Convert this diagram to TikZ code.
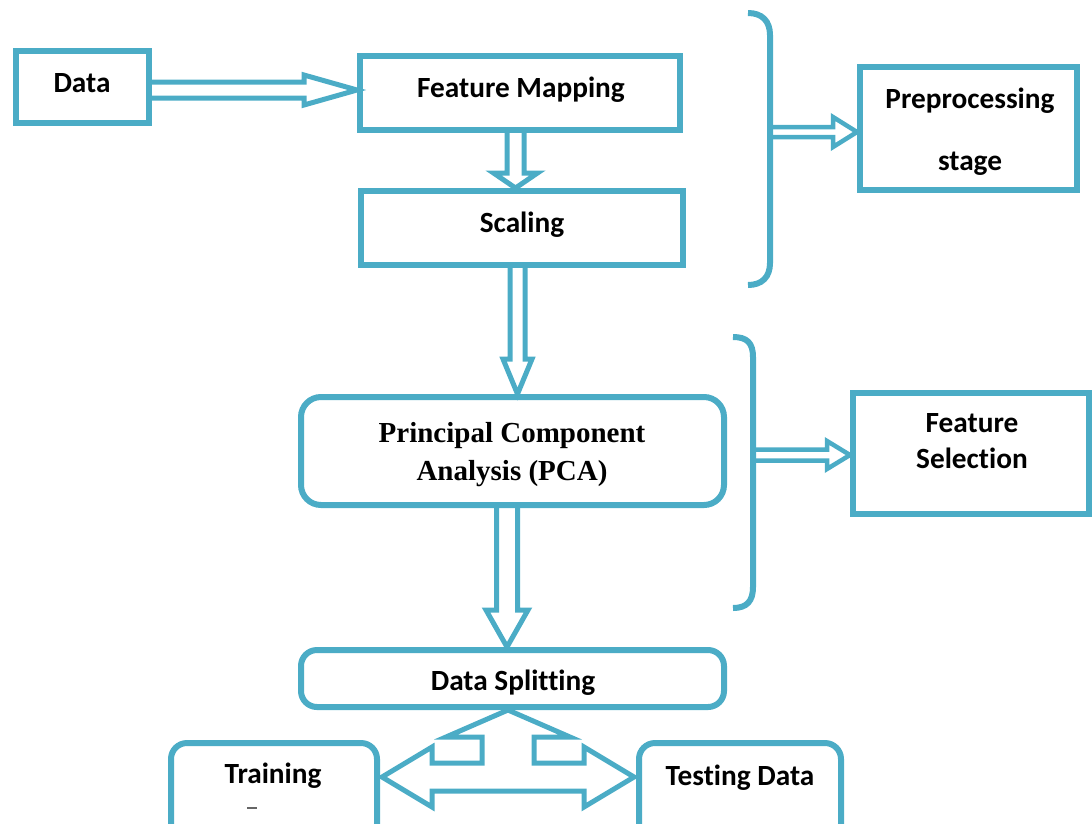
\documentclass[tikz,border=0pt]{standalone}
\usepackage{fontspec}
\setmainfont{Carlito}[Ligatures=NoCommon]
\newfontfamily\serifb{Liberation Serif}
\usetikzlibrary{calc}
\definecolor{acc}{RGB}{75,172,198}
\tikzset{
  box/.style={draw=acc, line width=6pt, fill=white, inner sep=0pt},
  rbox/.style={box, rounded corners=16pt},
  lbl/.style={anchor=base, inner sep=0pt, font=\fontsize{29.3}{34}\selectfont\bfseries},
  slbl/.style={anchor=base, inner sep=0pt, font=\fontsize{29}{34}\selectfont\serifb\bfseries},
  barrow/.style={draw=acc, line width=5pt},
  thinarrow/.style={draw=acc, line width=4.5pt},
  bracket/.style={draw=acc, line width=6pt},
}
% #1 start, #2 end, #3 shaft half width, #4 head half width, #5 head length, #6 style
\newcommand\blockarrow[6]{%
  \path #1 coordinate (ba-s) #2 coordinate (ba-e);
  \path ($(ba-e)!#5!(ba-s)$) coordinate (ba-b);
  \draw[#6] ($(ba-s)!#3!90:(ba-e)$) -- ($(ba-b)!#3!90:(ba-e)$) -- ($(ba-b)!#4!90:(ba-e)$)
    -- (ba-e) -- ($(ba-b)!#4!-90:(ba-e)$) -- ($(ba-b)!#3!-90:(ba-e)$) -- ($(ba-s)!#3!-90:(ba-e)$);
}
\begin{document}
\begin{tikzpicture}[x=1pt, y=-1pt]
\useasboundingbox (0,0) rectangle (1092,823);

% boxes
\node[box, minimum width=133pt, minimum height=72pt] (data) at (82.5,87) {};
\node[lbl] at (82,92) {Data};
\node[box, minimum width=320pt, minimum height=74pt] (fm) at (520,93) {};
\node[lbl] at (521,97) {Feature Mapping};
\node[box, minimum width=322pt, minimum height=74pt] (scaling) at (522,228) {};
\node[lbl] at (522,232) {Scaling};
\node[rbox, rounded corners=20pt, minimum width=423pt, minimum height=108pt] (pca) at (512.5,451) {};
\node[slbl] at (512,442) {Principal Component};
\node[slbl] at (512,480) {Analysis (PCA)};
\node[rbox, minimum width=423pt, minimum height=57pt] (split) at (512.5,678.5) {};
\begin{scope}
  \clip (300,650) rectangle (724,694);
  \node[lbl] at (513,690) {Data Splitting};
\end{scope}
\node[rbox, minimum width=206pt, minimum height=97pt] (train) at (274,791.5) {};
\node[lbl] at (273,783) {Training};
\draw[line width=1.5pt, black!60] (247,808) -- (257,808);
\node[rbox, minimum width=202pt, minimum height=97pt] (test) at (740,791.5) {};
\node[lbl] at (740,785) {Testing Data};
\node[box, minimum width=217pt, minimum height=123pt] (prep) at (968.5,128.5) {};
\node[lbl] at (970,108) {Preprocessing};
\node[lbl] at (970,170) {stage};
\node[box, minimum width=236pt, minimum height=121pt] (fsel) at (971,453.5) {};
\node[lbl] at (972,432) {Feature};
\node[lbl] at (972,468) {Selection};

% brackets
\draw[bracket] (748,13) .. controls (762,13) and (770,21) .. (770,35) -- (770,263)
  .. controls (770,277) and (762,285) .. (748,285);
\coordinate (b1) at (770,132);
\draw[bracket] (733,337) .. controls (747,337) and (753,343) .. (753,357) -- (753,587)
  .. controls (753,601) and (747,608) .. (733,608);
\coordinate (b2) at (753,455);

% block arrows
\blockarrow{($(data.east)+(-3,3)$)}{($(fm.west)+(0,-3)$)}{8pt}{15pt}{53pt}{barrow}
\blockarrow{($(fm.south)+(-4.5,-3)$)}{($(scaling.north)+(-6.5,0)$)}{8.5pt}{22pt}{15pt}{barrow}
\blockarrow{($(scaling.south)+(-4.5,-3)$)}{($(pca.north)+(5,0)$)}{7.5pt}{14.5pt}{35pt}{barrow}
\blockarrow{($(pca.south)+(-5.5,-3)$)}{($(split.north)+(-5.5,0)$)}{10.5pt}{21pt}{37pt}{barrow}
\blockarrow{(b1)}{($(prep.west)+(0,3.5)$)}{5pt}{15pt}{24pt}{thinarrow}
\blockarrow{(b2)}{($(fsel.west)+(0,1.5)$)}{5.5pt}{14pt}{23pt}{thinarrow}

% three-way arrow from Data Splitting to Training and Testing Data
\coordinate (T) at ($(split.south)+(-4.5,0)$);
\draw[barrow, shift={(T)}] (0,0) -- (62,27) -- (26,27) -- (26,53) -- (76,53) -- (76,37)
  -- (126,67) -- (76,97) -- (76,81) -- (-76,81) -- (-76,97) -- (-126,67) -- (-76,37)
  -- (-76,53) -- (-26,53) -- (-26,27) -- (-62,27) -- cycle;
\end{tikzpicture}
\end{document}
